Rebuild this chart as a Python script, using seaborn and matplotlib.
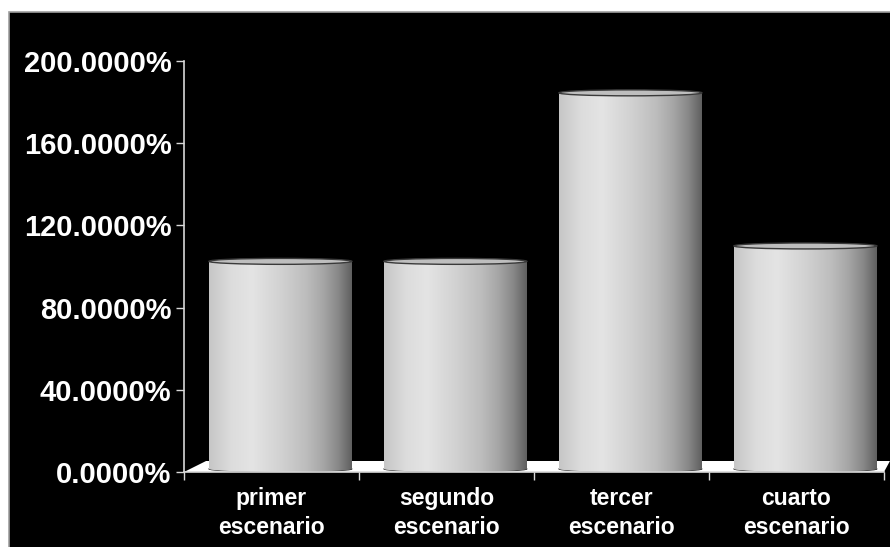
import numpy as np
import pandas as pd
import matplotlib
matplotlib.use("Agg")
import matplotlib.pyplot as plt
import seaborn as sns
from matplotlib.patches import Ellipse, Polygon, Rectangle
from matplotlib.colors import LinearSegmentedColormap
from matplotlib.ticker import FixedLocator, FuncFormatter

# Data
escenarios = ["primer\nescenario", "segundo\nescenario", "tercer\nescenario", "cuarto\nescenario"]
porcentajes = [102.5, 102.5, 184.5, 110.0]
y_ticks = [0, 40, 80, 120, 160, 200]

sns.set_theme(style="dark")
plt.rcParams["font.family"] = ["Liberation Sans", "DejaVu Sans"]

fig = plt.figure(figsize=(8.9, 5.47), dpi=100, facecolor="white")
fig.add_artist(Rectangle((9 / 890, -0.01), 1.0, (547 - 12) / 547 + 0.01,
                         transform=fig.transFigure, facecolor="black",
                         edgecolor="#a0a0a0", linewidth=1.2, zorder=0))

ax = fig.add_axes([184 / 890, 75 / 547, 700 / 890, 411 / 547])
ax.set_facecolor("none")

df = pd.DataFrame({"escenario": escenarios, "porcentaje": porcentajes})
sns.barplot(data=df, x="escenario", y="porcentaje", ax=ax, color="#c8c8c8",
            width=0.817, linewidth=0, zorder=3)

# shading across a cylinder, left to right
cyl = LinearSegmentedColormap.from_list(
    "cyl",
    [(0.0, "#c6c6c6"), (0.15, "#dcdcdc"), (0.3, "#e4e4e4"), (0.5, "#d2d2d2"),
     (0.68, "#bdbdbd"), (0.8, "#a6a6a6"), (0.9, "#8a8a8a"), (1.0, "#606060")])
grad = np.linspace(0, 1, 256)[None, :]

base = 1.5      # bars rest on the floor
depth = 0.051   # sideways shift of the bars into the floor
cap_h = 2.9     # height of the elliptical caps (data units)

# white floor under the bars
floor = Polygon([(-0.5, 0), (-0.374, 5.35), (3.534, 5.35), (3.5, 0)],
                closed=True, facecolor="white", edgecolor="none",
                zorder=1, clip_on=False)
ax.add_patch(floor)

for patch, val in zip(ax.patches[:len(porcentajes)], porcentajes):
    patch.set_x(patch.get_x() + depth)
    patch.set_y(base)
    patch.set_height(val - base)
    x0 = patch.get_x()
    w = patch.get_width()
    cx = x0 + w / 2

    im = ax.imshow(grad, cmap=cyl, extent=[x0, x0 + w, base, val],
                   aspect="auto", zorder=3.5, interpolation="bilinear")
    im.set_clip_path(patch)

    bottom = Ellipse((cx, base), w, cap_h, facecolor="#9a9a9a",
                     edgecolor="#2e2e2e", linewidth=0.8, zorder=3.2)
    ax.add_patch(bottom)
    im2 = ax.imshow(grad, cmap=cyl, extent=[x0, x0 + w, base - cap_h, base + cap_h],
                    aspect="auto", zorder=3.3, interpolation="bilinear")
    im2.set_clip_path(bottom)

    top = Ellipse((cx, val), w, cap_h, facecolor="#bebebe",
                  edgecolor="#3a3a3a", linewidth=1.0, zorder=4, clip_on=False)
    ax.add_patch(top)

ax.set_xlim(-0.5, 3.5)
ax.set_ylim(0, 200)
ax.grid(False)
ax.set_xlabel("")
ax.set_ylabel("")

ax.yaxis.set_major_locator(FixedLocator(y_ticks))
ax.yaxis.set_major_formatter(FuncFormatter(lambda v, p: f"{v:.4f}%"))

for side in ["top", "right"]:
    ax.spines[side].set_visible(False)
for side in ["left", "bottom"]:
    ax.spines[side].set_visible(True)
    ax.spines[side].set_color("#d8d8d8")
    ax.spines[side].set_linewidth(1.2)
    ax.spines[side].set_zorder(5)

ax.tick_params(axis="y", which="major", left=True, length=6, width=1,
               color="#d8d8d8", pad=3, labelcolor="white", labelsize=21,
               direction="out")
ax.tick_params(axis="x", which="major", bottom=True, length=0, pad=11,
               labelcolor="white", labelsize=16.5)
ax.set_xticks([-0.5, 0.5, 1.5, 2.5, 3.5], minor=True)
ax.tick_params(axis="x", which="minor", bottom=True, length=6, width=1,
               color="#d8d8d8", direction="out")
for lab in ax.get_xticklabels() + ax.get_yticklabels():
    lab.set_fontweight("bold")
for lab in ax.get_xticklabels():
    lab.set_linespacing(1.3)

fig.savefig("out.png", dpi=100, facecolor="white")
